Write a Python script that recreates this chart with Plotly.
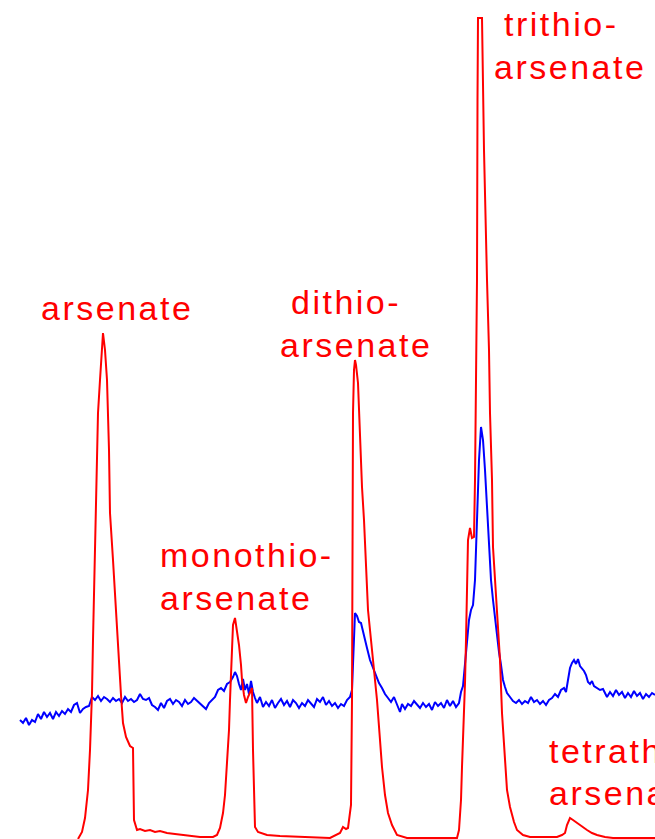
import plotly.graph_objects as go

H = 839  # signal = H - pixel row (arbitrary intensity units)

# Red chromatogram (retention position, intensity)
red_t = [78, 82, 85, 88, 90, 92, 93, 95, 97, 98, 100, 103, 105, 107, 109, 110, 113, 115, 118, 121, 123, 126, 130, 133,
         134, 137, 140, 145, 150, 155, 160, 167, 175, 185, 200, 213, 217, 220, 223, 225, 227, 229, 230, 232, 233, 235,
         237, 239, 241, 242, 244, 246, 248, 250, 252, 253, 254, 255, 258, 262, 267, 280, 300, 330, 340, 343, 346, 348,
         351, 352, 353, 354, 355, 356, 358, 360, 362, 364, 365, 367, 368, 370, 372, 375, 377, 380, 382, 385, 388, 392,
         397, 407, 430, 457, 459, 461, 462, 464, 465, 466, 467, 468, 470, 472, 474, 475, 476, 477, 477.5, 478, 482, 484,
         487, 489, 490, 492, 493, 495, 497, 499, 500, 502, 505, 507, 510, 514, 517, 523, 530, 545, 557, 562, 565, 567,
         570, 573, 577, 582, 587, 592, 597, 605, 613, 630, 655]
red_px = [839, 832, 818, 790, 750, 693, 640, 560, 480, 413, 380, 333, 350, 380, 450, 513, 560, 597, 650, 695, 723, 737,
          746, 748, 820, 830, 829, 831, 830, 832, 831, 833, 834, 835, 837, 837, 835, 828, 813, 795, 767, 730, 700, 650,
          625, 618, 630, 645, 665, 680, 695, 703, 697, 692, 688, 750, 800, 827, 832, 833, 835, 836, 837, 838, 833, 827,
          829, 828, 805, 700, 413, 370, 360, 365, 383, 440, 487, 520, 547, 590, 610, 630, 650, 680, 700, 740, 767, 795,
          813, 825, 835, 838, 838, 838, 830, 800, 767, 720, 683, 640, 600, 540, 528, 538, 537, 480, 380, 280, 100, 18,
          18, 150, 280, 350, 413, 480, 547, 580, 610, 635, 660, 713, 767, 790, 807, 822, 830, 835, 837, 837, 837, 835,
          833, 825, 818, 820, 823, 827, 830, 833, 835, 837, 838, 838, 838]

# Blue chromatogram
blue_t = [20, 23, 26, 29, 32, 35, 38, 41, 44, 47, 50, 53, 56, 59, 62, 65, 68, 71, 74, 77, 80, 83, 86, 89, 92, 95, 98,
          101, 104, 107, 110, 113, 116, 119, 122, 125, 128, 131, 134, 137, 140, 143, 146, 149, 152, 155, 158, 161, 164,
          167, 170, 173, 176, 179, 182, 185, 188, 191, 194, 197, 200, 203, 206, 209, 212, 215, 218, 221, 224, 227, 230,
          233, 235, 237, 239, 241, 243, 245, 247, 249, 251, 253, 255, 257, 260, 263, 266, 269, 272, 275, 278, 281, 284,
          287, 290, 293, 296, 299, 302, 305, 308, 311, 314, 317, 320, 323, 326, 329, 332, 335, 338, 341, 344, 347, 350,
          352, 354, 355, 357, 359, 361, 363, 365, 367, 370, 373, 376, 379, 382, 385, 388, 391, 394, 397, 400, 402, 405,
          408, 411, 414, 417, 420, 423, 426, 429, 432, 435, 438, 441, 444, 447, 450, 453, 456, 459, 461, 463, 465, 467,
          469, 471, 473, 475, 477, 479, 481, 483, 485, 487, 489, 491, 493, 495, 497, 499, 501, 503, 505, 507, 510, 513,
          516, 519, 522, 525, 528, 531, 534, 537, 540, 543, 546, 549, 552, 555, 558, 561, 564, 566, 568, 570, 572, 574,
          576, 578, 580, 582, 584, 586, 588, 590, 592, 594, 597, 600, 603, 605, 607, 610, 613, 616, 619, 622, 625, 628,
          631, 634, 637, 640, 643, 646, 649, 652, 655]
blue_px = [720, 723, 718, 725, 720, 722, 714, 719, 712, 717, 713, 719, 712, 716, 711, 714, 709, 712, 705, 703, 713, 709,
           707, 706, 697, 700, 696, 701, 697, 699, 702, 698, 701, 699, 703, 697, 701, 699, 702, 700, 694, 699, 700, 698,
           705, 707, 710, 703, 708, 701, 699, 704, 700, 702, 706, 700, 704, 702, 698, 701, 704, 707, 709, 703, 700, 697,
           690, 688, 691, 684, 682, 677, 672, 676, 684, 690, 679, 690, 684, 694, 681, 692, 698, 703, 697, 707, 702, 706,
           700, 708, 703, 699, 705, 701, 707, 700, 703, 708, 703, 706, 700, 704, 707, 699, 702, 697, 705, 701, 706, 703,
           708, 704, 706, 700, 697, 690, 640, 613, 616, 622, 623, 632, 640, 648, 660, 668, 677, 683, 688, 694, 698, 702,
           697, 705, 712, 704, 709, 704, 706, 701, 705, 708, 703, 707, 704, 710, 702, 706, 703, 708, 700, 706, 701, 707,
           703, 692, 686, 665, 640, 620, 610, 605, 580, 520, 460, 427, 440, 470, 510, 550, 580, 600, 618, 635, 652, 665,
           680, 687, 693, 697, 701, 703, 700, 704, 701, 703, 697, 702, 700, 704, 701, 705, 700, 698, 694, 697, 690, 688,
           692, 680, 668, 663, 660, 664, 659, 666, 668, 671, 675, 682, 684, 681, 686, 688, 690, 689, 693, 697, 692, 696,
           690, 695, 692, 698, 693, 697, 691, 696, 693, 699, 694, 697, 693, 695]

# Peak labels: (text, left position, baseline row)
label_text = ["arsenate", "dithio-", "arsenate", "monothio-", "arsenate", "trithio-", "arsenate",
              "tetrathio-", "arsenate"]
label_x = [40, 290, 279, 159, 159, 503, 493, 548, 548]
label_base = [320, 314, 357, 567, 610, 36, 79, 763, 805]

red_y = [H - p for p in red_px]
blue_y = [H - p for p in blue_px]

fig = go.Figure()
fig.add_trace(go.Scatter(x=blue_t, y=blue_y, mode="lines", line=dict(color="#0000ff", width=2), hoverinfo="skip"))
fig.add_trace(go.Scatter(x=red_t, y=red_y, mode="lines", line=dict(color="#ff0000", width=2), hoverinfo="skip"))

FS = 34
for txt, lx, lb in zip(label_text, label_x, label_base):
    fig.add_annotation(
        x=lx, y=H - lb - 8, xref="x", yref="y",
        text='<span style="letter-spacing:2.5px">' + txt + "</span>",
        showarrow=False, xanchor="left", yanchor="bottom", align="left",
        font=dict(family="Liberation Sans, Arial, sans-serif", size=FS, color="#ff0000"),
        borderpad=0,
    )

fig.update_layout(
    width=655, height=839,
    margin=dict(l=0, r=0, t=0, b=0),
    paper_bgcolor="white", plot_bgcolor="white",
    showlegend=False,
    xaxis=dict(range=[0, 655], visible=False, fixedrange=True),
    yaxis=dict(range=[0, H], visible=False, fixedrange=True),
)

fig.write_html("out.html")
